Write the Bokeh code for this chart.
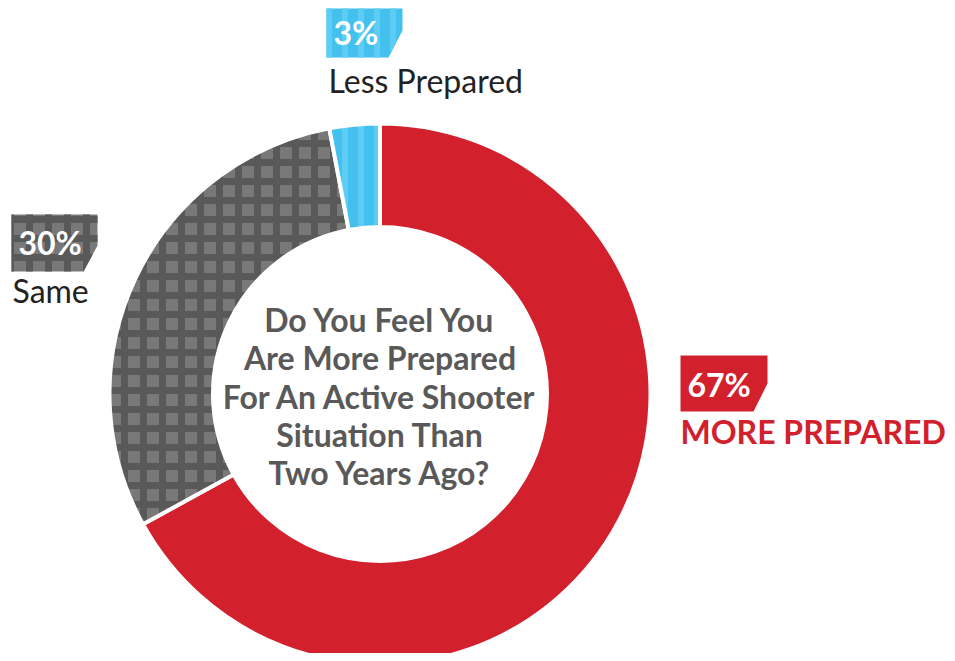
import numpy as np
from bokeh.plotting import figure
from bokeh.core.properties import value
from bokeh.embed import file_html
from bokeh.resources import INLINE

# ---- data ----
labels = ["MORE PREPARED", "Same", "Less Prepared"]
values = [67, 30, 3]
pct_labels = ["67%", "30%", "3%"]
question = ["Do You Feel You", "Are More Prepared", "For An Active Shooter",
            "Situation Than", "Two Years Ago?"]

# ---- styles ----
base_colors = ["#d2202d", "#787878", "#43c1ee"]
hatch_colors = [None, "#595959", "#5ecdf3"]
hatch_patterns = [None, "+", "|"]
label_colors = ["#d2202d", "#222222", "#222222"]

W, H = 947, 653
TXT_SHIFT = 11  # svg baseline correction
def Y(py):  # reference pixel row -> data y
    return 661 - py

p = figure(width=W, height=H, x_range=(0, W), y_range=(661 - H, 661),
           output_backend="svg", toolbar_location=None,
           x_axis_location=None, y_axis_location=None, min_border=0)
p.grid.visible = False
p.outline_line_color = None
p.background_fill_color = "white"
p.border_fill_color = "white"

cx, cy = 379.5, Y(393.5)
r_out, r_in = 270.5, 167

tot = float(sum(values))
cum = np.cumsum([0] + values) / tot
starts = np.pi / 2 - cum[:-1] * 2 * np.pi
ends = np.pi / 2 - cum[1:] * 2 * np.pi

def hatch_kw(i):
    if not hatch_patterns[i]:
        return {}
    return dict(hatch_pattern=hatch_patterns[i], hatch_color=hatch_colors[i],
                hatch_scale=19 if i == 1 else 16, hatch_weight=7 if i == 1 else 6)

for i in range(len(values)):
    p.annular_wedge(x=cx, y=cy, inner_radius=r_in, outer_radius=r_out,
                    start_angle=starts[i], end_angle=ends[i], direction="clock",
                    fill_color=base_colors[i], line_color="white", line_width=4,
                    **hatch_kw(i))

# label boxes (layout positions in reference pixels)
box_left = [680, 11, 326]
box_top = [355, 214, 8]
box_w = [87, 86, 76]
box_h = [56, 57, 49]
box_vcut = [28, 31, 22]
txt_off = [40, 39, 35]
for i in range(3):
    l, t, w, h = box_left[i], box_top[i], box_w[i], box_h[i]
    xs = [l, l + w, l + w, l + w - 14, l]
    ys = [Y(t), Y(t), Y(t + box_vcut[i]), Y(t + h), Y(t + h)]
    p.patch(xs, ys, fill_color=base_colors[i], line_color=None, **hatch_kw(i))
    p.text(x=[l + 7], y=[Y(t + txt_off[i] - TXT_SHIFT)], text=[pct_labels[i]],
           text_font=value("Lato"), text_font_style="bold",
           text_font_size="32px", text_color="white",
           text_baseline="alphabetic", text_align="left")

lab_x = [680, 12, 328]
lab_y = [442, 301, 91]
for i in range(3):
    p.text(x=[lab_x[i]], y=[Y(lab_y[i] - TXT_SHIFT)], text=[labels[i]],
           text_font=value("Lato"),
           text_font_style="bold" if i == 0 else "normal",
           text_font_size="32px", text_color=label_colors[i],
           text_baseline="alphabetic", text_align="left")

# center question
qy = [Y(330 + k * 38.3 - TXT_SHIFT) for k in range(len(question))]
p.text(x=[cx] * len(question), y=qy, text=question,
       text_font=value("Lato"), text_font_style="bold",
       text_font_size="32px", text_color="#595959",
       text_baseline="alphabetic", text_align="center")

open("out.html", "w").write(file_html(p, INLINE))
